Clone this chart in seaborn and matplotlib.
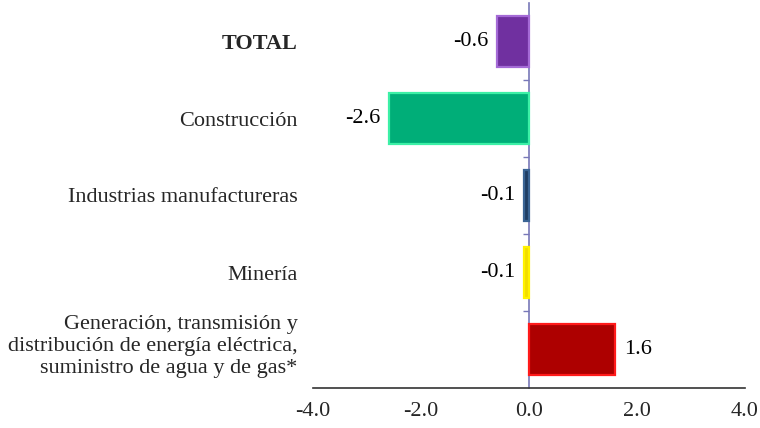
import matplotlib
matplotlib.use("Agg")
import matplotlib.pyplot as plt
import matplotlib.transforms as mtransforms
import seaborn as sns
import pandas as pd

# Variación por sector (puntos porcentuales)
sectores = [
    "TOTAL",
    "Construcción",
    "Industrias manufactureras",
    "Minería",
    "Generación, transmisión y\ndistribución de energía eléctrica,\nsuministro de agua y de gas*",
]
valores = [-0.6, -2.6, -0.1, -0.1, 1.6]
etiquetas = ["-0.6", "-2.6", "-0.1", "-0.1", "1.6"]
colores = ["#7030A0", "#00AE78", "#1F3D63", "#F2DC00", "#AD0000"]
bordes = ["#A46AD6", "#3CF0A6", "#3A6494", "#FFF200", "#FF1A1A"]
ticks_x = [-4.0, -2.0, 0.0, 2.0, 4.0]

df = pd.DataFrame({"sector": sectores, "valor": valores})

sns.set_style("white")
plt.rcParams["font.family"] = ["Liberation Serif", "DejaVu Serif"]
FS = 16

fig = plt.figure(figsize=(7.6, 4.28), dpi=100)
ax = fig.add_axes([313 / 760, 1 - 388 / 428, (745 - 313) / 760, (388 - 3) / 428])

sns.barplot(data=df, x="valor", y="sector", hue="sector", palette=colores,
            saturation=1, orient="h", width=0.65, legend=False, ax=ax)

for patch, borde in zip(ax.patches, bordes):
    patch.set_edgecolor(borde)
    patch.set_linewidth(1.6)

for cont, txt in zip(ax.containers, etiquetas):
    ax.bar_label(cont, labels=[txt], padding=6, fontsize=FS, color="black")

ax.set_xlim(-4, 4)
ax.set_ylim(len(sectores) - 0.5, -0.5)
ax.set_xticks(ticks_x)
ax.set_xticklabels([f"{t:.1f}" for t in ticks_x], fontsize=FS)
ax.set_xlabel("")
ax.set_ylabel("")

for s in ["top", "right", "left"]:
    ax.spines[s].set_visible(False)
ax.spines["bottom"].set_color("#333333")
ax.spines["bottom"].set_linewidth(1.2)
ax.tick_params(axis="x", direction="out", length=5, width=1.2, color="#333333", pad=5)

ax.tick_params(axis="y", length=0, pad=11)
for lbl in ax.get_yticklabels():
    lbl.set_fontsize(FS)
    lbl.set_multialignment("right")
    if lbl.get_text() == "TOTAL":
        lbl.set_fontweight("bold")
    if "\n" in lbl.get_text():
        # bloque de tres líneas algo más arriba que el centro de la barra
        lbl.set_transform(lbl.get_transform() +
                          mtransforms.ScaledTranslation(0, 5 / 72, fig.dpi_scale_trans))

# Eje vertical en cero con marcas entre categorías
eje0 = ax.secondary_yaxis(0.5)
eje0.set_yticks([i + 0.5 for i in range(len(sectores) - 1)])
eje0.set_yticklabels([])
for s in eje0.spines.values():
    s.set_color("#7878B8")
    s.set_linewidth(1.2)
eje0.yaxis.set_ticks_position("left")
eje0.tick_params(axis="y", direction="out", length=4, width=1.0, color="#7878B8")

fig.savefig("out.png", dpi=100)
